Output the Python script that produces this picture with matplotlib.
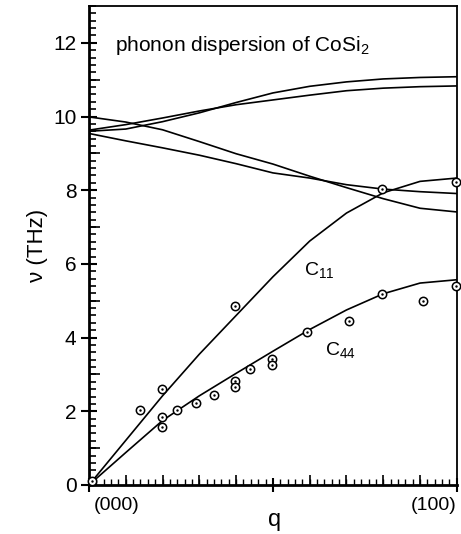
import numpy as np
import matplotlib
matplotlib.use('Agg')
import matplotlib.pyplot as plt
from matplotlib.ticker import MultipleLocator, FixedLocator

plt.rcParams['font.family'] = ['Liberation Sans', 'DejaVu Sans']
plt.rcParams['mathtext.fontset'] = 'custom'
plt.rcParams['mathtext.rm'] = 'Liberation Sans'
plt.rcParams['mathtext.it'] = 'Liberation Sans:italic'

# dispersion curves, q in units of (100)
q_grid = [0.0, 0.1, 0.2, 0.3, 0.4, 0.5, 0.6, 0.7, 0.8, 0.9, 1.0]
c11_branch = [0.0, 1.21, 2.42, 3.55, 4.6, 5.65, 6.62, 7.38, 7.93, 8.24, 8.33]
c44_branch = [0.0, 0.88, 1.75, 2.42, 3.03, 3.63, 4.22, 4.75, 5.19, 5.48, 5.57]
optic_a = [9.99, 9.85, 9.64, 9.32, 8.99, 8.71, 8.38, 8.07, 7.77, 7.51, 7.41]
optic_b = [9.54, 9.34, 9.15, 8.95, 8.72, 8.47, 8.33, 8.15, 8.03, 7.96, 7.91]
optic_c = [9.63, 9.78, 9.96, 10.15, 10.32, 10.45, 10.58, 10.70, 10.77, 10.81, 10.83]
optic_d = [9.60, 9.66, 9.86, 10.10, 10.38, 10.64, 10.82, 10.94, 11.02, 11.06, 11.08]

# measured points
exp_q = [0.008, 0.140, 0.199, 0.199, 0.199, 0.239, 0.290, 0.340, 0.398, 0.398,
         0.398, 0.439, 0.498, 0.498, 0.594, 0.707, 0.797, 0.797, 0.907, 0.997, 0.997]
exp_nu = [0.10, 2.04, 2.61, 1.84, 1.56, 2.04, 2.23, 2.44, 4.85, 2.81,
          2.65, 3.14, 3.42, 3.26, 4.15, 4.44, 5.19, 8.04, 4.98, 5.41, 8.22]

fig = plt.figure(figsize=(4.61, 5.34), dpi=100)
ax = fig.add_axes([0.193, 0.0918, 0.798, 0.897])

for branch in [c11_branch, c44_branch, optic_a, optic_b, optic_c, optic_d]:
    ax.plot(q_grid, branch, color='black', lw=1.2, solid_capstyle='round')

ax.plot(exp_q, exp_nu, 'o', ms=6, mfc='white', mec='black', mew=1.1, clip_on=False, zorder=3)
ax.plot(exp_q, exp_nu, '.', ms=1.5, color='black', clip_on=False, zorder=4)

ax.set_xlim(0, 1)
ax.set_ylim(0, 13)

# y ticks: labelled even, longer odd, small every 0.2
ax.yaxis.set_major_locator(MultipleLocator(2))
ax.yaxis.set_minor_locator(MultipleLocator(0.2))
ax.tick_params(axis='y', which='major', direction='inout', length=12, width=1.5, labelsize=15, pad=3)
ax.tick_params(axis='y', which='minor', direction='in', length=5, width=1.2)
sec_y = ax.secondary_yaxis('left')
sec_y.set_yticks([1, 3, 5, 7, 9, 11])
sec_y.tick_params(direction='in', length=8, width=1.2, labelleft=False)
sec_y.spines['left'].set_visible(False)

# x ticks: small every 0.02, longer every 0.1
ax.xaxis.set_major_locator(FixedLocator([0, 0.5, 1.0]))
ax.xaxis.set_minor_locator(MultipleLocator(0.02))
ax.tick_params(axis='x', which='major', direction='inout', length=10, width=1.5, labelbottom=False)
ax.tick_params(axis='x', which='minor', direction='in', length=4, width=1.0)
sec_x = ax.secondary_xaxis('bottom')
sec_x.set_xticks([0.1, 0.2, 0.3, 0.4, 0.6, 0.7, 0.8, 0.9])
sec_x.tick_params(direction='in', length=7, width=1.2, labelbottom=False)
sec_x.spines['bottom'].set_visible(False)

for side in ['left', 'bottom']:
    ax.spines[side].set_linewidth(2.0)
for side in ['top', 'right']:
    ax.spines[side].set_linewidth(1.3)

ax.text(0.012, -0.025, '(000)', transform=ax.transAxes, ha='left', va='top', fontsize=14)
ax.text(1.0, -0.025, '(100)', transform=ax.transAxes, ha='right', va='top', fontsize=14)
ax.text(0.505, -0.073, 'q', transform=ax.transAxes, ha='center', va='center', fontsize=17)
ax.set_ylabel('ν (THz)', fontsize=16, labelpad=4)

ax.text(0.07, 0.918, 'phonon dispersion of CoSi$_2$', transform=ax.transAxes,
        ha='left', va='center', fontsize=15)
ax.text(0.585, 5.71, 'C$_{11}$', ha='left', va='baseline', fontsize=14)
ax.text(0.641, 3.53, 'C$_{44}$', ha='left', va='baseline', fontsize=14)

fig.savefig('out.png', dpi=100)
